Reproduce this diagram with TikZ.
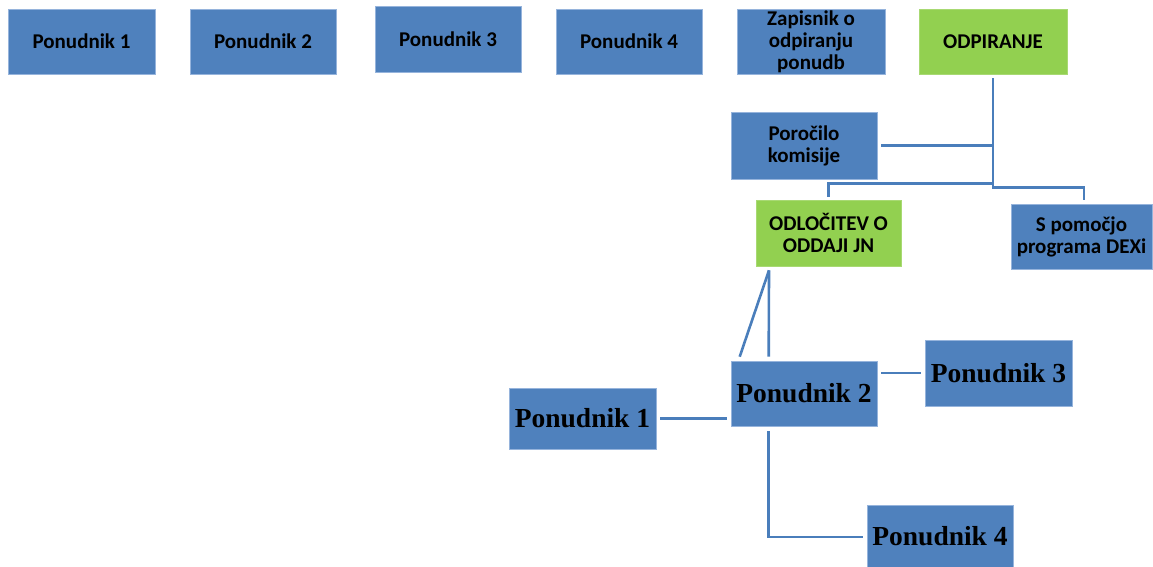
\documentclass[tikz,border=0pt]{standalone}
\usepackage{fontspec}
\newfontfamily\calfont{Carlito}
\newfontfamily\tnrfont{Liberation Serif}
\usetikzlibrary{calc}
\definecolor{boxblue}{RGB}{79,129,189}
\definecolor{boxgreen}{RGB}{146,208,80}
\definecolor{linecol}{RGB}{74,126,187}
\definecolor{edgecol}{RGB}{150,180,220}
\tikzset{
  box/.style={draw=edgecol, line width=0.6pt, fill=boxblue, inner sep=0pt, align=center,
    minimum width=146pt, minimum height=65pt,
    font=\calfont\bfseries\fontsize{21}{22}\selectfont},
  gbox/.style={box, fill=boxgreen, draw=boxgreen!80!white},
  bigbox/.style={box, font=\tnrfont\bfseries\fontsize{27.5}{30}\selectfont},
  conn/.style={draw=linecol, line width=2.6pt}
}
\begin{document}
\begin{tikzpicture}[x=1pt,y=-1pt]
\useasboundingbox (0,0) rectangle (1153,567);
% top row
\node[box, minimum width=147pt] (t1) at (81.5,41.5) {Ponudnik 1};
\node[box] (t2) at (263,41.5) {Ponudnik 2};
\node[box, minimum height=66pt] (t3) at (448,39) {Ponudnik 3};
\node[box] (t4) at (629,41.5) {Ponudnik 4};
\node[box, minimum width=148pt] (zap) at (811,41.5) {Zapisnik o\\odpiranju\\ponudb};
\node[gbox, minimum width=148pt] (odp) at (993,41.5) {ODPIRANJE};
% middle
\node[box, minimum height=67pt] (por) at (804,145.5) {Poro\v{c}ilo\\komisije};
\node[gbox, minimum width=145pt, minimum height=66pt] (odl) at (828.5,233) {ODLO\v{C}ITEV O\\ODDAJI JN};
\node[box, minimum width=141pt] (spo) at (1081.5,236.5) {S pomo\v{c}jo\\programa DEXi};
% bottom
\node[bigbox, minimum width=147pt, minimum height=61pt] (b1) at (582.5,418.5) {Ponudnik 1};
\node[bigbox] (b2) at (804,393.5) {Ponudnik 2};
\node[bigbox, minimum width=147pt, minimum height=66pt] (b3) at (998.5,373) {Ponudnik 3};
\node[bigbox, minimum height=62pt] (b4) at (940,536) {Ponudnik 4};
% connectors
\draw[conn] ($(odp.south)+(0,4)$) -- ($(odp.south)+(0,113)$) -| ($(spo.north)+(2.5,-4)$);
\draw[conn] ($(por.east)+(4,0)$) -- (por.east -| odp.south);
\draw[conn] ($(odp.south)+(0,109)$) -| ($(odl.north)+(0,-3)$);
\coordinate (odlb) at ($(odl.south)+(-59.5,4)$);
\draw[conn] (odlb) -- ($(b2.north west)+(38,-4)$);
\draw[conn] (odlb) -- ($(b2.north west)+(9,-4)$);
\draw[conn] ($(b1.east)+(4,0)$) -- ($(b2.west |- b1.east)+(-4,0)$);
\draw[conn] ($(b2.east |- b3.west)+(4,0)$) -- ($(b3.west)+(-4,0)$);
\draw[conn] ($(b2.south west)+(38,5)$) |- ($(b4.west)+(-4,1)$);
\end{tikzpicture}
\end{document}
